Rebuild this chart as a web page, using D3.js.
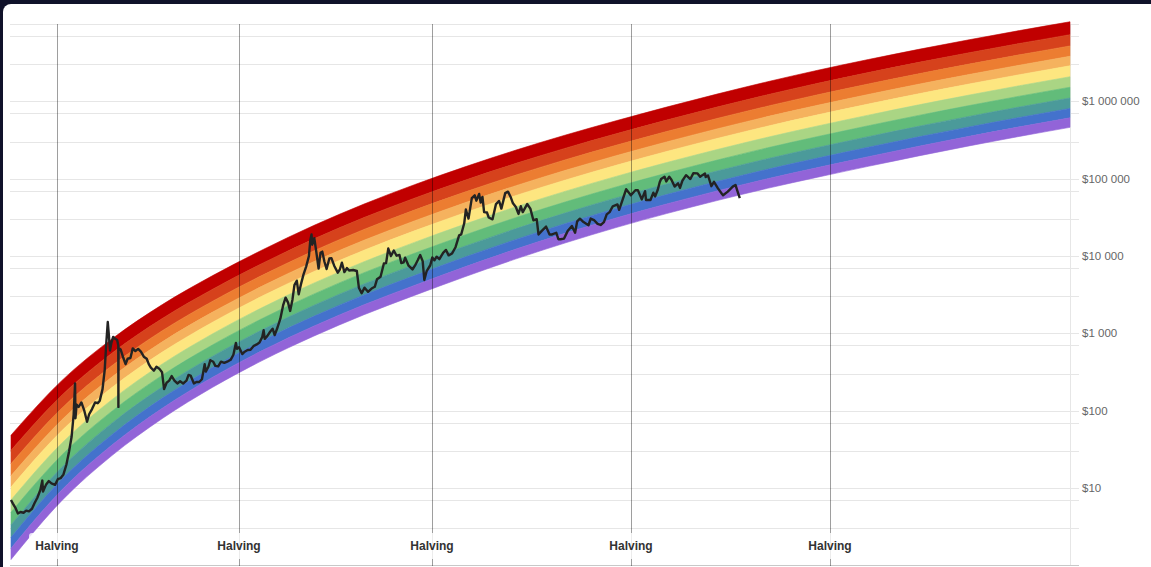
<!DOCTYPE html>
<meta charset="utf-8">
<style>
body { margin: 0; background: #10122a; width: 1151px; height: 567px; overflow: hidden; position: relative; }
.card { position: absolute; left: 3px; top: 4px; width: 1160px; height: 580px; background: #fff; border-radius: 8px; }
svg { position: absolute; left: 0; top: 0; font-family: "Liberation Sans", Arial, sans-serif; }
.grid line { stroke: #e6e6e6; stroke-width: 1px; shape-rendering: crispEdges; }
.price { fill: none; stroke: #232323; stroke-width: 2.4px; stroke-linejoin: round; }
</style>
<div class="card"></div>
<svg width="1151" height="567"></svg>
<script src="https://d3js.org/d3.v7.min.js"></script>
<script>
// rainbow band edges read at each new year (top of dark red, bottom of purple)
var bandDates = ["2012-01-01","2013-01-01","2014-01-01","2015-01-01","2016-01-01","2017-01-01",
  "2018-01-01","2019-01-01","2020-01-01","2021-01-01","2022-01-01","2023-01-01","2024-01-01",
  "2025-01-01","2026-01-01","2027-01-01","2028-01-01","2029-01-01","2030-01-01","2031-01-01",
  "2032-01-01","2033-01-01"];
var bandTop = [48.3, 243, 847, 2355, 5585, 12160, 24770, 46990, 83560, 142200, 232800, 367300,
  561000, 843300, 1241000, 1791000, 2523000, 3475000, 4699000, 6252000, 8222000, 10690000];
var bandBottom = [1.19, 6.81, 26.3, 79.3, 201, 452, 920, 1742, 3097, 5395, 9120, 14830, 23330,
  35400, 52120, 74990, 104700, 144500, 197200, 265500, 352400, 461300];
// where each colour starts, as share of the rainbow's (log) height
var bandSplits = [0, 0.122, 0.229, 0.327, 0.417, 0.521, 0.620, 0.722, 0.821, 0.910, 1];
var bandColors = ["#c00000","#d6421c","#ec7d31","#f5b25e","#fde680","#aad584","#62bc7a","#4b9a9a","#4472cc","#9264d8"];

var halvings = ["2012-11-28","2016-07-09","2020-05-11","2024-04-20","2028-04-01"];

var yTicks = [10, 100, 1000, 10000, 100000, 1000000];
var yTickLabels = ["$10","$100","$1 000","$10 000","$100 000","$1 000 000"];
var gridValues = [3,7,10,30,70,100,300,700,1000,3000,7000,10000,30000,70000,100000,
  300000,700000,1000000,3000000,7000000,10000000];

var btcPrice = [
 ["2012-01-01",7.0],["2012-01-15",6.3],["2012-02-01",5.6],["2012-02-20",4.7],["2012-03-10",4.9],
 ["2012-04-01",4.8],["2012-04-20",5.1],["2012-05-10",5.0],["2012-06-01",5.4],["2012-06-20",6.4],
 ["2012-07-10",7.5],["2012-08-01",9.5],["2012-08-15",12.5],["2012-08-20",9.0],["2012-09-10",11.0],
 ["2012-10-01",12.3],["2012-10-20",11.5],["2012-11-15",11.0],["2012-12-05",13.0],["2012-12-25",13.4],
 ["2013-01-15",15],["2013-02-05",20],["2013-02-25",30],["2013-03-15",46],["2013-03-30",90],
 ["2013-04-09",226],["2013-04-12",80],["2013-04-20",120],["2013-05-05",112],["2013-05-25",128],
 ["2013-06-15",100],["2013-07-05",72],["2013-07-20",90],["2013-08-10",105],["2013-09-01",128],
 ["2013-09-20",125],["2013-10-05",135],["2013-10-25",190],["2013-11-10",340],["2013-11-20",700],
 ["2013-12-02",1400],["2013-12-10",950],["2013-12-18",600],["2013-12-28",750],["2014-01-10",900],
 ["2014-01-25",850],["2014-02-08",820],["2014-02-16",700],["2014-02-17",112],["2014-02-18",650],
 ["2014-03-05",620],["2014-03-25",480],["2014-04-10",400],["2014-04-25",470],["2014-05-15",480],
 ["2014-06-01",640],["2014-06-20",590],["2014-07-10",630],["2014-07-30",580],["2014-08-20",500],
 ["2014-09-10",470],["2014-09-25",400],["2014-10-10",360],["2014-11-01",330],["2014-11-20",370],
 ["2014-12-10",350],["2014-12-30",315],["2015-01-14",190],["2015-02-01",230],["2015-02-20",245],
 ["2015-03-10",280],["2015-03-30",245],["2015-04-20",225],["2015-05-10",240],["2015-06-01",225],
 ["2015-06-25",245],["2015-07-10",290],["2015-07-25",285],["2015-08-18",225],["2015-09-05",235],
 ["2015-09-25",235],["2015-10-15",255],["2015-11-04",400],["2015-11-12",320],["2015-12-01",370],
 ["2015-12-15",450],["2016-01-05",430],["2016-01-20",380],["2016-02-10",375],["2016-03-01",430],
 ["2016-03-25",415],["2016-04-15",430],["2016-05-10",455],["2016-05-30",530],["2016-06-17",750],
 ["2016-06-25",630],["2016-07-10",660],["2016-08-02",540],["2016-08-20",580],["2016-09-10",610],
 ["2016-10-01",615],["2016-10-25",690],["2016-11-15",720],["2016-12-05",760],["2016-12-25",900],
 ["2017-01-04",1100],["2017-01-12",850],["2017-01-30",920],["2017-02-20",1050],["2017-03-10",1150],
 ["2017-03-25",950],["2017-04-15",1200],["2017-05-05",1550],["2017-05-25",2300],["2017-06-12",2900],
 ["2017-06-30",2500],["2017-07-15",1950],["2017-08-01",2750],["2017-08-15",4200],["2017-09-01",4800],
 ["2017-09-15",3200],["2017-10-01",4300],["2017-10-20",5800],["2017-11-08",7300],["2017-11-28",10000],
 ["2017-12-08",16000],["2017-12-17",19000],["2017-12-22",14000],["2018-01-06",17000],["2018-01-20",11500],
 ["2018-02-06",6900],["2018-02-20",11000],["2018-03-05",11400],["2018-03-20",8500],["2018-04-05",6800],
 ["2018-04-25",9300],["2018-05-10",9400],["2018-05-30",7500],["2018-06-25",6100],["2018-07-10",6700],
 ["2018-07-25",8200],["2018-08-12",6200],["2018-08-30",7000],["2018-09-15",6500],["2018-10-15",6600],
 ["2018-11-10",6400],["2018-11-25",3900],["2018-12-15",3300],["2019-01-05",3900],["2019-01-30",3450],
 ["2019-02-25",3800],["2019-03-20",4000],["2019-04-05",5000],["2019-05-01",5400],["2019-05-25",8000],
 ["2019-06-10",8100],["2019-06-26",12500],["2019-07-15",10000],["2019-08-05",11800],["2019-08-25",10100],
 ["2019-09-15",10300],["2019-09-28",8100],["2019-10-15",8300],["2019-10-26",9500],["2019-11-20",7500],
 ["2019-12-18",6700],["2020-01-05",7500],["2020-01-25",8800],["2020-02-12",10300],["2020-03-01",8600],
 ["2020-03-13",4900],["2020-03-30",6400],["2020-04-25",7600],["2020-05-10",9600],["2020-05-25",8800],
 ["2020-06-10",9800],["2020-06-30",9100],["2020-07-27",11000],["2020-08-17",12000],["2020-09-05",10200],
 ["2020-09-30",10800],["2020-10-25",13000],["2020-11-20",18500],["2020-12-05",19000],["2020-12-27",26500],
 ["2021-01-08",40000],["2021-01-27",30500],["2021-02-20",56000],["2021-03-13",61000],["2021-03-25",52000],
 ["2021-04-14",63500],["2021-04-25",49000],["2021-05-08",58000],["2021-05-20",37000],["2021-06-10",36500],
 ["2021-06-22",31500],["2021-07-20",29800],["2021-08-14",47000],["2021-09-06",51500],["2021-09-22",41000],
 ["2021-10-20",65000],["2021-11-09",68000],["2021-11-30",57000],["2021-12-15",48000],["2022-01-05",43000],
 ["2022-01-24",35000],["2022-02-10",44000],["2022-02-24",37000],["2022-03-28",47000],["2022-04-20",41000],
 ["2022-05-12",29000],["2022-06-05",30000],["2022-06-18",19000],["2022-07-10",21000],["2022-08-12",24000],
 ["2022-09-06",19000],["2022-09-25",19000],["2022-10-25",20000],["2022-11-09",16500],["2022-11-25",16500],
 ["2022-12-20",16800],["2023-01-15",21000],["2023-02-15",24500],["2023-03-10",20000],["2023-03-25",28000],
 ["2023-04-14",30400],["2023-05-10",27500],["2023-06-15",25000],["2023-07-01",30500],["2023-07-25",29200],
 ["2023-08-20",26000],["2023-09-11",25200],["2023-10-05",27500],["2023-10-25",34500],["2023-11-15",37000],
 ["2023-12-08",44000],["2024-01-11",46500],["2024-01-23",39500],["2024-02-15",52000],["2024-03-14",73000],
 ["2024-04-17",61000],["2024-05-20",71000],["2024-06-07",71000],["2024-07-05",54000],["2024-07-29",69000],
 ["2024-08-05",53000],["2024-09-06",53000],["2024-09-27",66000],["2024-10-10",59000],["2024-10-29",72000],
 ["2024-11-12",90000],["2024-11-22",99000],["2024-12-17",106000],["2024-12-30",92000],["2025-01-20",106000],
 ["2025-02-05",97000],["2025-02-28",79000],["2025-03-25",87000],["2025-04-08",76000],["2025-04-25",94000],
 ["2025-05-22",111000],["2025-06-22",99000],["2025-07-14",118000],["2025-08-13",117000],["2025-09-01",106000],
 ["2025-09-20",112000],["2025-10-06",117000],["2025-10-11",105000],["2025-10-28",110000],["2025-11-21",80000],
 ["2025-12-10",91000],["2026-01-08",75000],["2026-02-05",64000],["2026-02-14",61000],["2026-03-20",68000],
 ["2026-04-25",79000],["2026-05-15",83000],["2026-05-28",70000],["2026-06-15",56000]
];

var parse = d3.utcParse("%Y-%m-%d");
var svg = d3.select("svg");

var x = d3.scaleUtc()
    .domain([parse("2012-01-01"), parse("2033-01-01")])
    .range([11, 1070]);
var y = d3.scaleLog()
    .domain([1, 1e7])
    .range([565.4, 24]);

// horizontal grid
var grid = svg.append("g").attr("class", "grid");
grid.selectAll("line")
  .data(gridValues)
  .enter().append("line")
    .attr("x1", 10).attr("x2", 1079)
    .attr("y1", function(d) { return Math.round(y(d)) + 0.5; })
    .attr("y2", function(d) { return Math.round(y(d)) + 0.5; });
grid.append("line")
    .attr("x1", 1070.5).attr("x2", 1070.5)
    .attr("y1", y(1e7)).attr("y2", y(1));

// rainbow
var bands = bandColors.map(function(c, i) {
  return bandDates.map(function(d, j) {
    var lt = Math.log10(bandTop[j]), lb = Math.log10(bandBottom[j]);
    return {
      date: parse(d),
      hi: Math.pow(10, lt - bandSplits[i] * (lt - lb)),
      lo: Math.pow(10, lt - bandSplits[i + 1] * (lt - lb))
    };
  });
});
var area = d3.area()
    .curve(d3.curveMonotoneX)
    .x(function(d) { return x(d.date); })
    .y0(function(d) { return y(d.lo); })
    .y1(function(d) { return y(d.hi); });
svg.append("g").selectAll("path")
  .data(bands)
  .enter().append("path")
    .attr("fill", function(d, i) { return bandColors[i]; })
    .attr("stroke", function(d, i) { return bandColors[i]; })
    .attr("stroke-width", 0.6)
    .attr("d", area);

// bottom axis line
svg.append("line")
    .attr("x1", 10).attr("x2", 1079)
    .attr("y1", 565.5).attr("y2", 565.5)
    .attr("stroke", "#c8c8c8");

// halving lines
var hv = svg.append("g");
hv.selectAll("line")
  .data(halvings)
  .enter().append("line")
    .attr("x1", function(d) { return Math.round(x(parse(d))) + 0.5; })
    .attr("x2", function(d) { return Math.round(x(parse(d))) + 0.5; })
    .attr("y1", y(1e7)).attr("y2", 566)
    .attr("stroke", "rgba(0,0,0,0.38)")
    .attr("stroke-width", 1);

// price line
var line = d3.line()
    .x(function(d) { return x(parse(d[0])); })
    .y(function(d) { return y(d[1]); });
svg.append("path")
    .datum(btcPrice)
    .attr("class", "price")
    .attr("d", line);

// halving labels
var hl = svg.append("g").selectAll("g")
  .data(halvings)
  .enter().append("g")
    .attr("transform", function(d) { return "translate(" + Math.round(x(parse(d))) + ",546)"; });
hl.append("rect")
    .attr("x", -28).attr("y", -13).attr("width", 56).attr("height", 26)
    .attr("rx", 3)
    .attr("fill", "rgba(255,255,255,0.8)");
hl.append("text")
    .attr("text-anchor", "middle")
    .attr("dy", "0.35em")
    .attr("fill", "#333")
    .style("font-size", "12px")
    .style("font-weight", "bold")
    .text("Halving");

// y labels
svg.append("g").selectAll("text")
  .data(yTicks)
  .enter().append("text")
    .attr("x", 1082)
    .attr("y", function(d) { return y(d); })
    .attr("dy", "0.35em")
    .attr("fill", "#666")
    .style("font-size", "11.5px")
    .text(function(d, i) { return yTickLabels[i]; });
</script>
